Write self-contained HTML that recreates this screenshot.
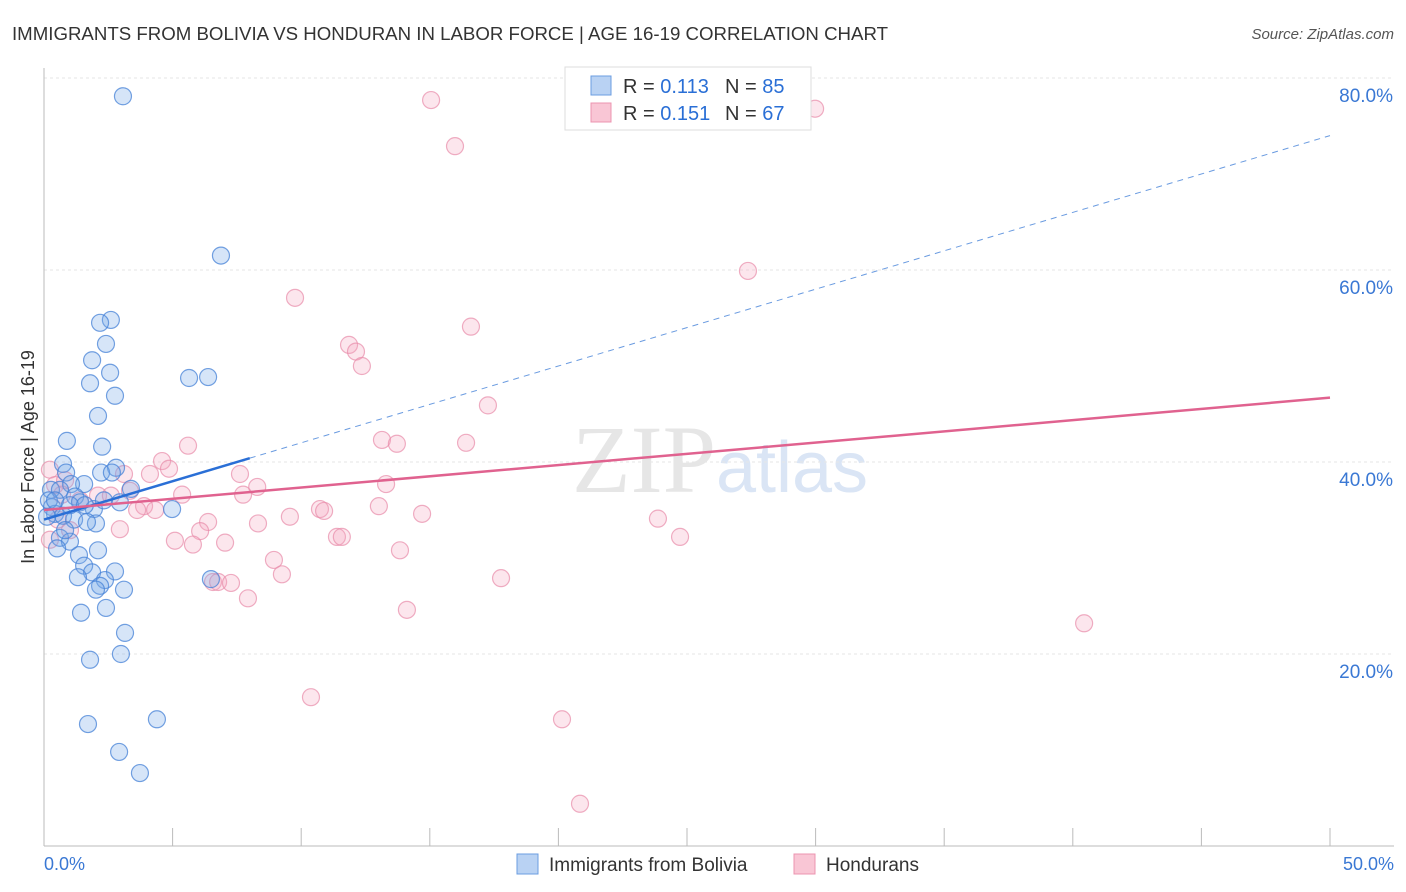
<!DOCTYPE html>
<html><head><meta charset="utf-8"><style>
body{margin:0;background:#fff;font-family:"Liberation Sans",sans-serif;}
svg{display:block}
</style></head><body>
<svg id="chart" width="1406" height="892" font-family="Liberation Sans, sans-serif">
<text x="12" y="40" font-size="18" fill="#333" textLength="876" lengthAdjust="spacingAndGlyphs">IMMIGRANTS FROM BOLIVIA VS HONDURAN IN LABOR FORCE | AGE 16-19 CORRELATION CHART</text>
<text x="1394" y="39" font-size="15" fill="#555" font-style="italic" text-anchor="end">Source: ZipAtlas.com</text>
<text x="720" y="492" font-size="96" fill="#e6e6e6" text-anchor="middle" font-family="Liberation Serif, serif">ZIP<tspan fill="#dae5f5" font-family="Liberation Sans, sans-serif" font-size="72">atlas</tspan></text>
<g id="grid"></g>
<g id="axes"></g>
<g id="marks"></g>
<g id="lines"></g>
<text x="34" y="457" font-size="18" fill="#333" text-anchor="middle" transform="rotate(-90 34 457)">In Labor Force | Age 16-19</text>
<g>
<rect x="565" y="67" width="246" height="63" fill="#fff" stroke="#ddd"/>
<rect x="591" y="76" width="20" height="19" fill="#b9d2f3" stroke="#6b9de0"/>
<rect x="591" y="103" width="20" height="19" fill="#f9c6d5" stroke="#ec94b0"/>
<text x="623" y="93" font-size="20" fill="#333">R = <tspan fill="#2a6fd6">0.113</tspan></text>
<text x="725" y="93" font-size="20" fill="#333">N = <tspan fill="#2a6fd6">85</tspan></text>
<text x="623" y="120" font-size="20" fill="#333">R = <tspan fill="#2a6fd6">0.151</tspan></text>
<text x="725" y="120" font-size="20" fill="#333">N = <tspan fill="#2a6fd6">67</tspan></text>
</g>
<g>
<rect x="517" y="854" width="21" height="20" fill="#b9d2f3" stroke="#6b9de0"/>
<text x="549" y="871" font-size="19" fill="#333">Immigrants from Bolivia</text>
<rect x="794" y="854" width="21" height="20" fill="#f9c6d5" stroke="#ec94b0"/>
<text x="826" y="871" font-size="19" fill="#333">Hondurans</text>
</g>
</svg>
<script>
const blueX=[3.07,6.88,2.60,2.18,2.41,1.87,2.57,1.79,5.64,6.38,2.76,2.10,0.89,2.26,0.74,0.86,2.80,2.22,2.64,1.56,1.05,0.27,0.62,1.21,1.40,2.95,3.38,1.94,4.98,0.31,0.43,0.74,1.17,2.02,1.67,0.62,1.01,0.51,2.10,1.36,1.56,1.87,2.76,1.32,2.37,2.18,2.02,3.11,1.44,2.41,3.15,2.99,1.79,6.49,4.39,1.71,2.92,3.73,0.19,0.43,0.12,1.01,1.59,0.82,2.33];
const blueY=[78.1,61.5,54.8,54.5,52.3,50.6,49.3,48.2,48.75,48.85,46.9,44.8,42.2,41.6,39.8,38.9,39.4,38.9,38.9,37.7,37.7,37.1,37.1,36.4,35.8,35.8,37.2,35.1,35.1,35.3,34.6,34.4,34.0,33.6,33.75,32.1,31.7,31.0,30.8,30.3,29.2,28.5,28.6,28.0,27.7,27.1,26.7,26.7,24.3,24.8,22.2,20.0,19.4,27.8,13.2,12.7,9.8,7.6,36.0,36.0,34.3,35.5,35.5,32.9,36.0];
const pinkX=[15.05,29.98,15.98,27.37,9.76,16.60,11.86,12.13,12.36,17.26,5.60,13.14,13.72,16.41,4.59,4.86,4.12,3.11,7.62,8.29,13.30,5.37,7.74,2.10,2.60,3.34,3.89,4.32,3.62,10.73,10.89,13.02,14.70,9.56,8.32,6.38,2.95,6.07,23.87,11.39,11.58,5.09,5.79,7.04,13.84,24.73,8.94,9.25,17.77,6.57,6.77,7.27,7.93,14.11,40.44,10.38,20.14,20.84,0.23,0.43,0.82,0.70,0.54,1.01,0.23,1.40];
const pinkY=[77.7,76.8,72.9,59.9,57.1,54.1,52.2,51.5,50.0,45.9,41.7,42.3,41.9,42.0,40.1,39.3,38.75,38.75,38.75,37.4,37.7,36.6,36.6,36.5,36.5,37.0,35.4,35.0,35.0,35.1,34.9,35.4,34.6,34.3,33.6,33.75,33.0,32.8,34.1,32.2,32.2,31.8,31.4,31.6,30.8,32.2,29.8,28.3,27.9,27.5,27.5,27.4,25.8,24.6,23.2,15.5,13.2,4.4,39.2,37.6,38.1,36.6,34.0,32.9,31.9,36.0];
const yTicks=[20,40,60,80];
const yTickLabels=["20.0%","40.0%","60.0%","80.0%"];
const xTicks=[0,5,10,15,20,25,30,35,40,45,50];
const blueTrend=[34.0,74.0]; const blueSolidEnd=8.0;
const pinkTrend=[35.0,46.7];

const NS="http://www.w3.org/2000/svg";
const sx=v=>44+v*25.72, sy=v=>846-v*9.6;
function mk(tag,attrs,parent){const e=document.createElementNS(NS,tag);for(const k in attrs)e.setAttribute(k,attrs[k]);parent.appendChild(e);return e;}
const grid=document.getElementById('grid'),axes=document.getElementById('axes'),marks=document.getElementById('marks'),lines=document.getElementById('lines');
yTicks.forEach((t,i)=>{
 const l=mk('line',{x1:44,x2:1394,y1:sy(t),y2:sy(t),stroke:'#e6e6e6','stroke-dasharray':'3,3','stroke-width':1},grid);
 
 
 const tx=mk('text',{x:1393,y:sy(t)+24,'font-size':19,fill:'#3a78d4','text-anchor':'end'},axes);
 tx.textContent=yTickLabels[i];
 
 
});
mk('line',{x1:44,x2:44,y1:68,y2:846,stroke:'#bbb'},axes);
mk('line',{x1:44,x2:1394,y1:846,y2:846,stroke:'#bbb'},axes);
xTicks.forEach(t=>{
 const l=mk('line',{x1:sx(t),x2:sx(t),y1:828,y2:846,stroke:'#bbb'},axes);
 
 
});
let t0=mk('text',{x:44,y:870,'font-size':18,fill:'#3a78d4'},axes);t0.textContent=xTicks[0].toFixed(1)+'%';


let t1=mk('text',{x:1394,y:870,'font-size':18,fill:'#3a78d4','text-anchor':'end'},axes);t1.textContent=xTicks[xTicks.length-1].toFixed(1)+'%';


pinkX.forEach((x,i)=>{
 const c=mk('circle',{cx:sx(x),cy:sy(pinkY[i]),r:8.5,fill:'rgba(244,165,192,0.28)',stroke:'rgba(232,140,170,0.7)','stroke-width':1.2},marks);
 
 
});
blueX.forEach((x,i)=>{
 const c=mk('circle',{cx:sx(x),cy:sy(blueY[i]),r:8.5,fill:'rgba(120,168,232,0.3)',stroke:'rgba(70,130,215,0.75)','stroke-width':1.2},marks);
 
 
});
const bAt=x=>blueTrend[0]+(blueTrend[1]-blueTrend[0])*x/50;
const bd=mk('line',{x1:sx(blueSolidEnd),y1:sy(bAt(blueSolidEnd)),x2:sx(50),y2:sy(bAt(50)),stroke:'#6a9be0','stroke-width':1,'stroke-dasharray':'6,5'},lines);


const bs=mk('line',{x1:sx(0),y1:sy(bAt(0)),x2:sx(blueSolidEnd),y2:sy(bAt(blueSolidEnd)),stroke:'#2a6fd6','stroke-width':2.5},lines);


const pl=mk('line',{x1:sx(0),y1:sy(pinkTrend[0]),x2:sx(50),y2:sy(pinkTrend[1]),stroke:'#e0628f','stroke-width':2.5},lines);


</script>
</body></html>
